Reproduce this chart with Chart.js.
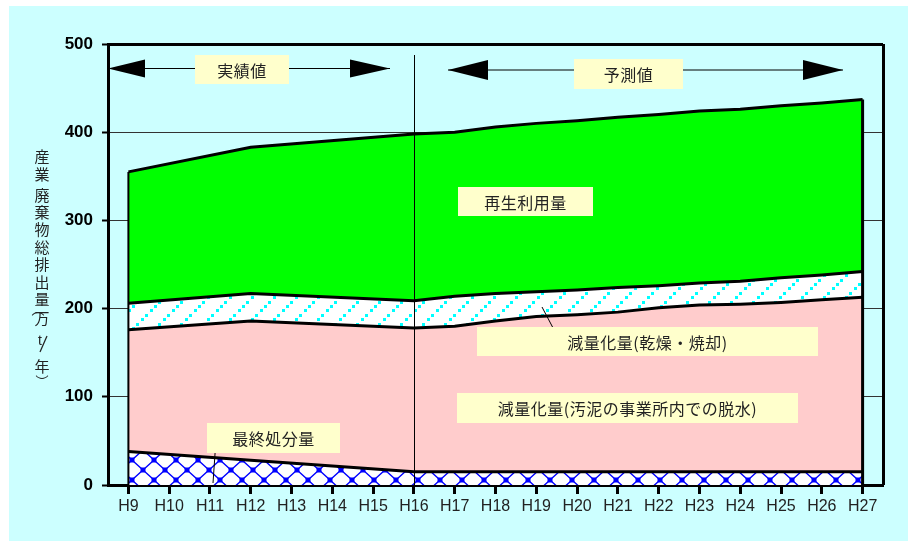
<!DOCTYPE html>
<html><head><meta charset="utf-8">
<script src="https://cdn.jsdelivr.net/npm/chart.js@4/dist/chart.umd.min.js"></script>
<style>html,body{margin:0;padding:0;background:#fff}#wrap{width:908px;height:541px;position:relative}</style>
</head><body><div id="wrap"><canvas id="c" width="908" height="541"></canvas></div>
<script>
// ---- data (万t/年) ----
const years = ['H9','H10','H11','H12','H13','H14','H15','H16','H17','H18','H19','H20','H21','H22','H23','H24','H25','H26','H27'];
const finalDisposal    = [38,null,null,28,null,null,null,15,15,15,15,15,15,15,15,15,15,15,15];
const reductionDewater = [138,null,null,158,null,null,null,163,165,171,176,178,181,186,189,190,192,195,198];
const reductionDry     = [30,null,null,31,null,null,null,31,34,31,28,28,28,25,25,26,28,28,29];
const recycling        = [149,null,null,166,null,null,null,189,186,189,191,192,193,194,195,195,195,195,195];
const yTicks = [0,100,200,300,400,500];
const seriesNames = ['最終処分量','減量化量(汚泥の事業所内での脱水)','減量化量(乾燥・焼却)','再生利用量'];

const canvas = document.getElementById('c');
const ctx0 = canvas.getContext('2d');

function makeCrossPattern(){
  const t = document.createElement('canvas'); t.width = 22; t.height = 20;
  const g = t.getContext('2d');
  g.fillStyle = '#fff'; g.fillRect(0,0,22,20);
  g.strokeStyle = '#0000ff'; g.lineWidth = 1.3;
  g.beginPath();
  g.moveTo(0,0); g.lineTo(22,20);
  g.moveTo(22,0); g.lineTo(0,20);
  g.stroke();
  g.fillStyle = '#0000ff';
  [[0,0],[22,0],[0,20],[22,20],[11,10]].forEach(([x,y])=>g.fillRect(x-2.5,y-2.5,5,5));
  return ctx0.createPattern(t,'repeat');
}
function makeHatchPattern(){
  const t = document.createElement('canvas'); t.width = 22; t.height = 22;
  const g = t.getContext('2d');
  g.fillStyle = '#fff'; g.fillRect(0,0,22,22);
  g.fillStyle = '#00ffff';
  for (let k=0;k<5;k++){
    const x = Math.round(k*4.4);
    const y = 22 - x - 3;
    g.fillRect(x,y,3,3);
  }
  return ctx0.createPattern(t,'repeat');
}

const FONT_JP = '"Noto Sans CJK JP","Noto Sans CJK SC",sans-serif';
const FONT_LAT = '"Liberation Sans",Arial,sans-serif';

const boxes = [
  {text:'実績値', x1:195, y1:55, x2:289, y2:84},
  {text:'予測値', x1:574, y1:59, x2:683, y2:89},
  {text:'再生利用量', x1:458, y1:187, x2:593, y2:216},
  {text:'減量化量(乾燥・焼却)', x1:477, y1:327, x2:818, y2:356},
  {text:'減量化量(汚泥の事業所内での脱水)', x1:457, y1:393, x2:798, y2:423},
  {text:'最終処分量', x1:207, y1:423, x2:340, y2:453}
];

const decorPlugin = {
  id:'decor',
  beforeDraw(chart){
    const c = chart.ctx;
    c.save();
    c.fillStyle = '#ffffff'; c.fillRect(0,0,chart.width,chart.height);
    c.fillStyle = '#ccffff'; c.fillRect(9,6,chart.width-9,chart.height-6);
    c.restore();
  },
  afterDatasetsDraw(chart){
    const c = chart.ctx, xs = chart.scales.x, ys = chart.scales.y, a = chart.chartArea;
    const topMeta = chart.getDatasetMeta(3);
    c.save();
    const first = topMeta.data[0], last = topMeta.data[years.length-1];
    c.strokeStyle = '#000';
    c.lineWidth = 2;
    c.beginPath(); c.moveTo(first.x, first.y); c.lineTo(first.x, ys.getPixelForValue(0)); c.stroke();
    c.lineWidth = 3;
    c.beginPath(); c.moveTo(last.x, last.y); c.lineTo(last.x, ys.getPixelForValue(0)); c.stroke();
    c.beginPath(); c.moveTo(a.right+0.5, a.top); c.lineTo(a.right+0.5, a.bottom); c.stroke();
    const xd = Math.round(xs.getPixelForValue(years.indexOf('H16')))+0.5;
    c.lineWidth = 1;
    c.beginPath(); c.moveTo(xd, 55); c.lineTo(xd, a.bottom); c.stroke();
    function arrow(xa, xb, y, xa2, xb2, h){
      c.strokeStyle = '#000'; c.lineWidth = 1;
      c.beginPath(); c.moveTo(xa, y); c.lineTo(xb, y); c.stroke();
      c.fillStyle = '#000';
      c.beginPath(); c.moveTo(xa, y); c.lineTo(xa2, y-h); c.lineTo(xa2, y+h); c.closePath(); c.fill();
      c.beginPath(); c.moveTo(xb, y); c.lineTo(xb2, y-h); c.lineTo(xb2, y+h); c.closePath(); c.fill();
    }
    arrow(a.left, 390, 68.5, 145, 350, 9);
    arrow(448, 843, 70, 488, 803, 10);
    c.strokeStyle = '#000'; c.lineWidth = 1;
    c.beginPath(); c.moveTo(217,425); c.lineTo(213,483); c.stroke();
    c.beginPath(); c.moveTo(542,307); c.lineTo(562,345); c.stroke();
    c.font = '16px ' + FONT_JP;
    c.textAlign = 'center'; c.textBaseline = 'middle';
    try { c.letterSpacing = '0.5px'; } catch(e) {}
    boxes.forEach(b=>{
      c.fillStyle = '#ffffcc';
      c.fillRect(b.x1, b.y1, b.x2-b.x1, b.y2-b.y1);
      c.fillStyle = '#222';
      c.fillText(b.text, (b.x1+b.x2)/2, (b.y1+b.y2)/2+1);
    });
    try { c.letterSpacing = '0px'; } catch(e) {}
    c.fillStyle = '#222';
    c.font = '15px ' + FONT_JP;
    const slots = [['産',156],['業',174.5],['廃',195],['棄',212.5],['物',229.5],['総',247.5],['排',264.5],['出',282.5],['量',299],['万',318.5],['年',366]];
    slots.forEach(([ch,y])=>c.fillText(ch, 42, y));
    c.font = '13px ' + FONT_JP;
    c.fillText('︵', 38, 309);
    c.fillText('︶', 42, 381);
    c.font = '14px ' + FONT_LAT;
    c.fillText('t', 40, 341);
    c.beginPath(); c.moveTo(47,336); c.lineTo(40,352); c.strokeStyle='#222'; c.lineWidth=1.2; c.stroke();
    c.restore();
  }
};

const baseDs = {borderColor:'#000', borderWidth:3, pointRadius:0, pointHoverRadius:0, tension:0, spanGaps:true};

new Chart(canvas, {
  type:'line',
  data:{
    labels: years,
    datasets:[
      Object.assign({label:seriesNames[0], data:finalDisposal, backgroundColor:makeCrossPattern(), fill:'origin'}, baseDs),
      Object.assign({label:seriesNames[1], data:reductionDewater, backgroundColor:'#ffcccc', fill:'-1'}, baseDs),
      Object.assign({label:seriesNames[2], data:reductionDry, backgroundColor:makeHatchPattern(), fill:'-1'}, baseDs),
      Object.assign({label:seriesNames[3], data:recycling, backgroundColor:'#00ff00', fill:'-1'}, baseDs)
    ]
  },
  options:{
    responsive:false, animation:false, devicePixelRatio:1,
    layout:{padding:{top:44, right:25, left:0, bottom:0}},
    plugins:{legend:{display:false}, tooltip:{enabled:false}, title:{display:false}},
    scales:{
      x:{
        type:'category', offset:true,
        grid:{drawOnChartArea:false, drawTicks:true, tickLength:9, tickWidth:3, tickColor:'#000'},
        border:{display:true, width:3, color:'#000'},
        ticks:{color:'#222', font:{family:FONT_LAT, size:16}, padding:3, autoSkip:false, maxRotation:0},
        afterFit(s){ s.height = 56; }
      },
      y:{
        stacked:true, min:0, max:500,
        afterBuildTicks(s){ s.ticks = yTicks.map(v=>({value:v})); },
        grid:{
          color: ctx => (ctx.tick && ctx.tick.value===500) ? '#000' : '#333',
          lineWidth: ctx => (ctx.tick && ctx.tick.value===500) ? 3 : 1,
          tickLength:6, tickColor:'#000', tickWidth:2
        },
        border:{width:3, color:'#000'},
        ticks:{color:'#000', font:{family:FONT_LAT, size:17, weight:'bold'}, padding:9},
        afterFit(s){ s.width = 108; }
      }
    }
  },
  plugins:[decorPlugin]
});
</script>
</body></html>
